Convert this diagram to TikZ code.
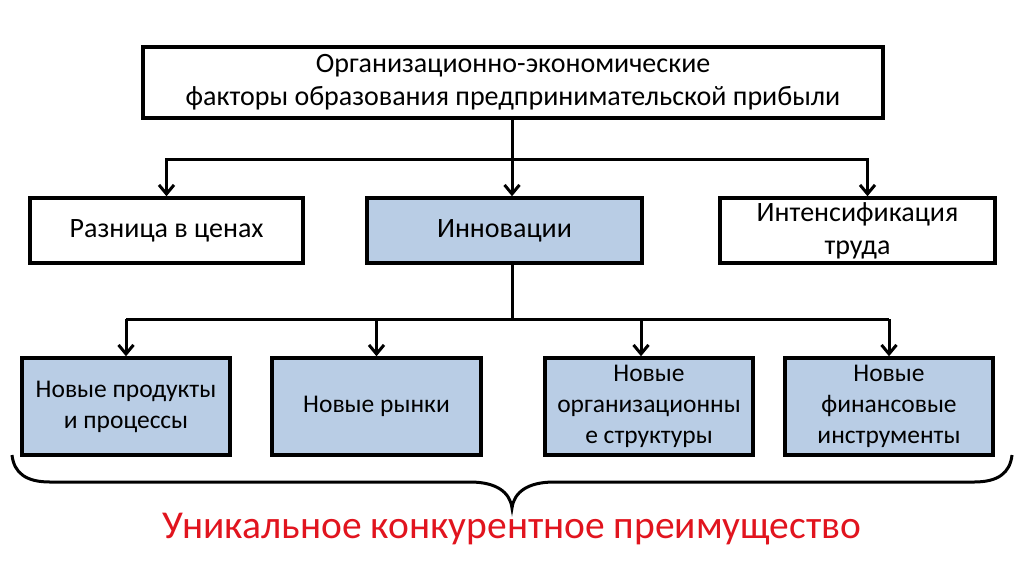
\documentclass[tikz,border=0pt]{standalone}
\usepackage{fontspec}
\setmainfont{Carlito}
\definecolor{innovblue}{RGB}{185, 205, 229}
\definecolor{resultred}{RGB}{225, 20, 30}
\usetikzlibrary{arrows.meta, positioning, calc}

\begin{document}
\begin{tikzpicture}[x=1pt, y=-1pt,
  box/.style={draw=black, line width=3.5pt, fill=white, align=center, inner sep=2pt, font=\fontsize{28}{33}\selectfont},
  innov/.style={box, fill=innovblue},
  small/.style={font=\fontsize{25.5}{31}\selectfont},
  link/.style={line width=3pt},
  arr/.style={link, -{Straight Barb[length=9pt, width=15pt]}}
]
  \useasboundingbox (0,0) rectangle (1024,574);

  % Top box
  \node[box, minimum width=740pt, minimum height=71pt] (factors) at (513, 82.5) {Организационно-экономические\\факторы образования предпринимательской прибыли};

  % Second row
  \node[box, minimum width=273pt, minimum height=65pt] (diff) at (166.5, 230.5) {Разница в ценах};
  \node[innov, minimum width=275pt, minimum height=65pt] (innov) at (504.5, 230.5) {Инновации};
  \node[box, minimum width=275pt, minimum height=65pt] (labour) at (857.5, 230.5) {Интенсификация\\труда};

  \coordinate (split1) at (512, 159);
  \coordinate (labourin) at ([xshift=10pt]labour.north);
  \draw[link] (factors.south -| split1) -- (split1);
  \draw[arr] (split1) -| (diff.north);
  \draw[arr] (split1) -- (innov.north -| split1);
  \draw[arr] (split1) -| (labourin);

  % Third row
  \node[innov, small, minimum width=208pt, minimum height=97pt] (products) at (126, 406.5) {Новые продукты\\и процессы};
  \node[innov, small, minimum width=209pt, minimum height=97pt] (markets) at (376.5, 406.5) {Новые рынки};
  \node[innov, small, minimum width=208pt, minimum height=97pt] (structs) at (649, 406.5) {Новые\\организационны\\е структуры};
  \node[innov, small, minimum width=208pt, minimum height=97pt] (finance) at (889, 406.5) {Новые\\финансовые\\инструменты};

  \coordinate (split2) at (512, 319);
  \coordinate (structsin) at ([xshift=-8pt]structs.north);
  \draw[link] (innov.south -| split2) -- (split2);
  \draw[link] (products.north |- split2) -- (finance.north |- split2);
  \draw[arr] (split2 -| products.north) -- (products.north);
  \draw[arr] (split2 -| markets.north) -- (markets.north);
  \draw[arr] (split2 -| structsin) -- (structsin);
  \draw[arr] (split2 -| finance.north) -- (finance.north);

  % Brace
  \coordinate (tip) at (512, 508);
  \draw[line width=3pt] (12, 455) .. controls (14, 473) and (26, 482) .. (50, 482) -- (470, 482)
    .. controls (496, 482) and (510, 492) .. (tip)
    .. controls (514, 492) and (528, 482) .. (554, 482) -- (974, 482)
    .. controls (998, 482) and (1010, 473) .. (1012, 455);

  % Result
  \node[font=\fontsize{39.5}{44}\selectfont, text=resultred] (result) at (512, 529) {Уникальное конкурентное преимущество};
\end{tikzpicture}
\end{document}
